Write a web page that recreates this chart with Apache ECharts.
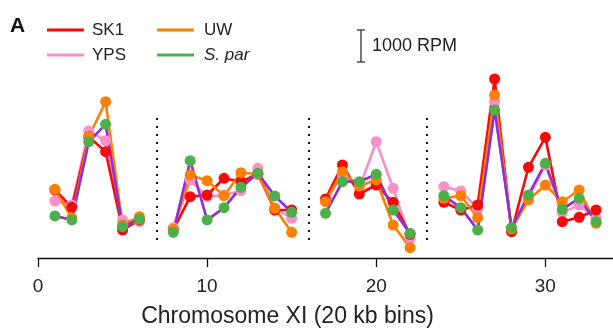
<!DOCTYPE html>
<html>
<head>
<meta charset="utf-8">
<script src="https://cdn.jsdelivr.net/npm/echarts@6/dist/echarts.min.js"></script>
<style>
html,body{margin:0;padding:0;background:#fff;}
#c{width:613px;height:333px;}
</style>
</head>
<body>
<div id="c"></div>
<script>
// 20 kb bins along chromosome XI (gaps at 7, 16, 23)
const bins = [1,2,3,4,5,6,7,8,9,10,11,12,13,14,15,16,17,18,19,20,21,22,23,24,25,26,27,28,29,30,31,32,33];
const separators = [7, 16, 23];
const xTicks = [0, 10, 20, 30];
// values in RPM
const sk1  = [2125,1584,3790,3322,875,1188,null, 875,1916,1969,2491,2384,2625,1500,1500,null, 1844,2906,2000,2281,1741,741,null, 1741,1500,1656,5594,822,2834,3772,1134,1272,1500];
const yps  = [1781,1656,3969,3666,1188,1134,null, 947,2438,1916,1969,2103,2803,1563,1241,null, 1781,2594,2178,3634,2178,616,null, 2228,2094,1553,4884,906,1866,2906,1416,1656,1241];
const uw   = [2147,1250,3790,4884,1031,1291,null, 897,2594,2416,1947,2666,2625,1553,803,null, 1759,2697,2250,2438,1031,322,null, 1866,1947,1259,5094,906,1813,2281,1759,2125,1084];
const spar = [1313,1188,3634,4178,978,1209,null, 803,3041,1188,1572,2209,2647,1938,1428,null, 1397,2384,2384,2616,1500,772,null, 1947,1572,875,4625,947,1969,2959,1522,1866,1134];
const purple = [1313,1188,3634,4178,978,1209,null, 803,3041,1188,1572,2209,2647,1938,1428,null, 1397,2384,2384,2616,1500,772,null, 1947,1572,875,4625,947,1969,2959,1522,1866,1134];
const scaleBarRPM = 1000;

const C = {SK1:'#f50a0a', YPS:'#f78fc9', UW:'#ff8000', 'S. par':'#4daf4a', purple:'#a020f0'};
const FONT = '"Liberation Sans", Arial, sans-serif';

const pairs = arr => bins.map((b,i)=>[b, arr[i]]);
const strains = [['YPS', yps], ['SK1', sk1], ['UW', uw], ['S. par', spar]];

const series = [];
strains.forEach(([n, arr]) => {
  series.push({name:n, type:'line', data:pairs(arr), showSymbol:false, connectNulls:false,
    lineStyle:{color:C[n], width:2.6}, itemStyle:{color:C[n]}, z:2, silent:true, animation:false});
});
series.push({name:'avg', type:'line', data:pairs(purple), showSymbol:false, connectNulls:false,
  lineStyle:{color:C.purple, width:2.3}, itemStyle:{color:C.purple}, z:2, silent:true, animation:false});
strains.forEach(([n, arr]) => {
  series.push({name:n, type:'scatter', data:pairs(arr).filter(p=>p[1]!=null), symbolSize:11,
    itemStyle:{color:C[n], opacity:1}, z:3, silent:true, animation:false});
});
// dotted separators
series.push({type:'line', data:[], silent:true, animation:false,
  markLine:{symbol:'none', silent:true, label:{show:false}, animation:false,
    lineStyle:{color:'#111', width:2, type:[2,6]},
    data: separators.map(s=>[{coord:[s,560]},{coord:[s,4420]}])}});

const legendText = pad => ({fontFamily:FONT, fontSize:17, color:'#222', lineHeight:20, padding:[0,0,0,pad],
  rich:{i:{fontFamily:FONT, fontSize:17, fontStyle:'italic', color:'#222', lineHeight:20}}});
const legendBase = {orient:'vertical', icon:'rect', itemWidth:37, itemHeight:3, itemGap:5, padding:0,
  selectedMode:false, formatter: n => n==='S. par' ? '{i|S. par}' : n};

const chart = echarts.init(document.getElementById('c'), null, {renderer:'canvas'});
chart.setOption({
  backgroundColor:'#fff',
  animation:false,
  grid:{left:38, width:575.6, top:18, height:240, containLabel:false},
  xAxis:{type:'value', min:0, max:34,
    axisLine:{show:true, lineStyle:{color:'#111', width:1.3}},
    axisTick:{show:true, length:9, lineStyle:{color:'#111', width:1.3}, customValues:xTicks},
    axisLabel:{show:true, margin:19, fontFamily:FONT, fontSize:19, color:'#222', customValues:xTicks},
    splitLine:{show:false},
    name:'Chromosome XI (20 kb bins)', nameLocation:'middle', nameGap:47,
    nameTextStyle:{fontFamily:FONT, fontSize:23, color:'#222', padding:[0,76,0,0]}},
  yAxis:{type:'value', min:0, max:7500, show:false},
  legend:[
    Object.assign({}, legendBase, {left:47, top:20, data:['SK1','YPS'], textStyle:legendText(3)}),
    Object.assign({}, legendBase, {left:157, top:20, data:['UW','S. par'], textStyle:legendText(5)})
  ],
  series: series
});

// scale bar derived from the y scale
const y0 = chart.convertToPixel({yAxisIndex:0}, 0);
const y1 = chart.convertToPixel({yAxisIndex:0}, scaleBarRPM);
const barLen = y0 - y1;
const bx = 361, btop = 30;
chart.setOption({graphic:[
  {type:'text', left:10, top:16, style:{text:'A', font:'bold 21px ' + FONT, fill:'#111'}},
  {type:'line', shape:{x1:bx, y1:btop, x2:bx, y2:btop+barLen}, style:{stroke:'#333', lineWidth:1.3}},
  {type:'line', shape:{x1:bx-4, y1:btop, x2:bx+4, y2:btop}, style:{stroke:'#333', lineWidth:1.3}},
  {type:'line', shape:{x1:bx-4, y1:btop+barLen, x2:bx+4, y2:btop+barLen}, style:{stroke:'#333', lineWidth:1.3}},
  {type:'text', x:372, y:btop+barLen/2, style:{text:'1000 RPM', font:'18px ' + FONT, fill:'#222', textVerticalAlign:'middle'}}
]});
</script>
</body>
</html>
